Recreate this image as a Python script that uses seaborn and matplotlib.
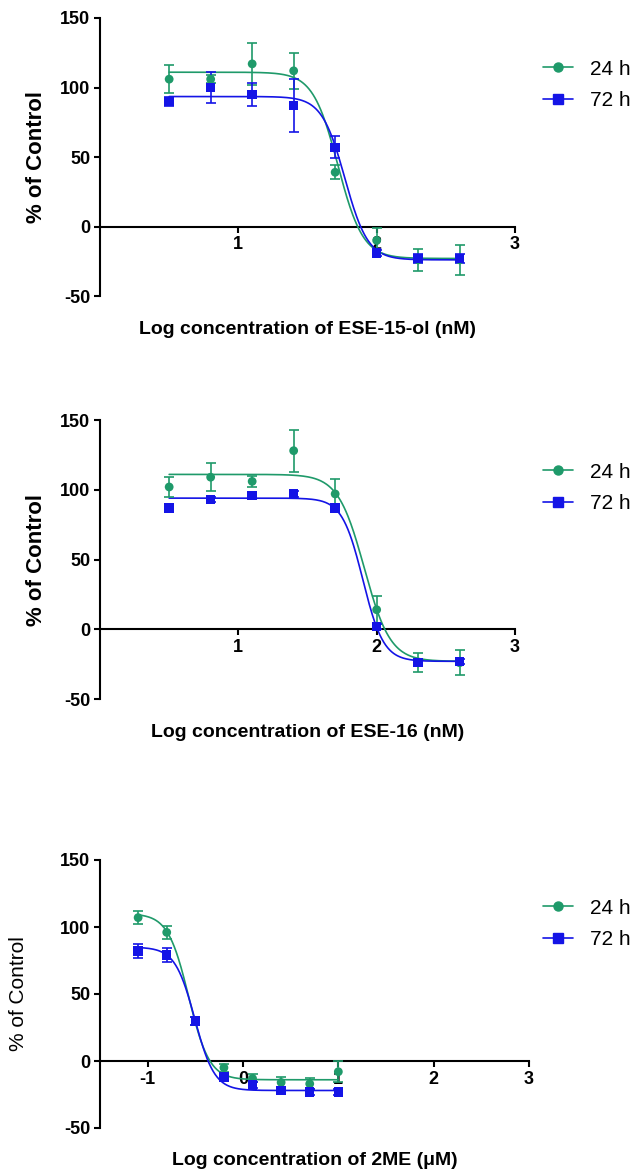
"""Dose-response curves for ESE-15-ol, ESE-16 and 2ME at 24 h and 72 h."""
import matplotlib

matplotlib.use("Agg")
import matplotlib.pyplot as plt
import numpy as np
import pandas as pd
import seaborn as sns
from matplotlib.lines import Line2D

# Log concentrations
log_conc_nm = [0.5, 0.8, 1.1, 1.4, 1.7, 2.0, 2.3, 2.6]
log_conc_um = [-1.1, -0.8, -0.5, -0.2, 0.1, 0.4, 0.7, 1.0]

# ESE-15-ol (% of control, mean and error)
ese15_24h = [106, 106, 117, 112, 39, -10, -24, -24]
ese15_24h_err = [10, 3, 15, 13, 5, 9, 8, 11]
ese15_72h = [90, 100, 95, 87, 57, -19, -23, -23]
ese15_72h_err = [3, 11, 8, 19, 8, 2, 3, 3]

# ESE-16
ese16_24h = [102, 109, 106, 128, 97, 14, -24, -24]
ese16_24h_err = [7, 10, 4, 15, 11, 10, 7, 9]
ese16_72h = [87, 93, 96, 97, 87, 2, -24, -23]
ese16_72h_err = [2, 2, 2, 2, 2, 2, 2, 2]

# 2ME
me2_24h = [107, 96, 30, -5, -13, -16, -17, -8]
me2_24h_err = [5, 5, 3, 3, 3, 4, 4, 8]
me2_72h = [82, 79, 30, -12, -18, -22, -23, -23]
me2_72h_err = [5, 5, 3, 2, 2, 2, 2, 2]

# Fitted 4PL parameters: top, bottom, logEC50, hill
fit_ese15_24h = [111, -23, 1.72, 4.8]
fit_ese15_72h = [93.5, -24, 1.77, 5.2]
fit_ese16_24h = [111, -23, 1.91, 4.6]
fit_ese16_72h = [94, -23, 1.90, 5.8]
fit_me2_24h = [110, -14, -0.57, 4.0]
fit_me2_72h = [85, -22, -0.506, 4.2]

series_labels = ["24 h", "72 h"]
GREEN = "#1f9a6a"
BLUE = "#1414e6"


def four_pl(x, params):
    top, bottom, ec50, hill = params
    return bottom + (top - bottom) / (1 + 10 ** ((x - ec50) * hill))


def draw_panel(ax, x, series, fits, xlim, xticks, xlabel, ylabel_bold, ylabel_x, ylabel_size):
    colors = [GREEN, BLUE]
    markers = ["o", "s"]
    sizes = [40, 46]
    for (y, err), fit, color, marker, size, label in zip(
        series, fits, colors, markers, sizes, series_labels
    ):
        xs = np.linspace(min(x), max(x), 300)
        curve = pd.DataFrame({"x": xs, "y": four_pl(xs, fit)})
        sns.lineplot(data=curve, x="x", y="y", color=color, lw=1.2, ax=ax, zorder=3)
        ax.errorbar(x, y, yerr=err, fmt="none", ecolor=color, elinewidth=1.2,
                    capsize=3.3, capthick=1.2, zorder=4, clip_on=False)
        df = pd.DataFrame({"x": x, "y": y})
        sns.scatterplot(data=df, x="x", y="y", color=color, marker=marker, s=size,
                        edgecolor="none", ax=ax, zorder=5, clip_on=False)

    ax.set_xlim(*xlim)
    ax.set_ylim(-50, 150)
    ax.set_xticks(xticks)
    ax.set_xticklabels([str(t) for t in xticks])
    ax.set_yticks([-50, 0, 50, 100, 150])
    ax.set_yticklabels(["-50", "0", "50", "100", "150"])
    ax.spines["bottom"].set_position(("data", 0))
    ax.spines[["top", "right"]].set_visible(False)
    for sp in ["left", "bottom"]:
        ax.spines[sp].set_linewidth(1.5)
        ax.spines[sp].set_color("black")
    ax.tick_params(axis="both", length=4.5, width=1.5, color="black",
                   labelcolor="black", labelsize=13, pad=2.5)
    for lab in ax.get_xticklabels() + ax.get_yticklabels():
        lab.set_fontweight("bold")
    ax.set_xlabel("")
    ax.set_ylabel("")
    ax.text(0.5, -0.12, xlabel, transform=ax.transAxes, ha="center", va="center",
            fontsize=14, fontweight="bold", color="black")
    ax.text(ylabel_x, 0.5, "% of Control", transform=ax.transAxes, rotation=90,
            ha="center", va="center", fontsize=ylabel_size, color="black",
            fontweight="bold" if ylabel_bold else "normal")


def main() -> None:
    sns.set_theme(style="ticks")
    plt.rcParams["font.family"] = ["Liberation Sans", "DejaVu Sans"]
    plt.rcParams["axes.unicode_minus"] = False

    fig = plt.figure(figsize=(6.36, 11.73), dpi=100)
    H = 1173.0
    W = 636.0
    ax1 = fig.add_axes([100 / W, 1 - 296 / H, 415 / W, 278 / H])
    ax2 = fig.add_axes([100 / W, 1 - 699 / H, 415 / W, 279 / H])
    ax3 = fig.add_axes([100 / W, 1 - 1128 / H, 429 / W, 268 / H])

    draw_panel(ax1, log_conc_nm,
               [(ese15_24h, ese15_24h_err), (ese15_72h, ese15_72h_err)],
               [fit_ese15_24h, fit_ese15_72h], (0, 3), [1, 2, 3],
               "Log concentration of ESE-15-ol (nM)", True, -0.154, 16)
    draw_panel(ax2, log_conc_nm,
               [(ese16_24h, ese16_24h_err), (ese16_72h, ese16_72h_err)],
               [fit_ese16_24h, fit_ese16_72h], (0, 3), [1, 2, 3],
               "Log concentration of ESE-16 (nM)", True, -0.154, 16)
    draw_panel(ax3, log_conc_um,
               [(me2_24h, me2_24h_err), (me2_72h, me2_72h_err)],
               [fit_me2_24h, fit_me2_72h], (-1.5, 3), [-1, 0, 1, 2, 3],
               "Log concentration of 2ME (\u03bcM)", False, -0.191, 15)

    handles = [
        Line2D([0], [0], color=GREEN, marker="o", markersize=6.5, lw=1.2),
        Line2D([0], [0], color=BLUE, marker="s", markersize=6.5, lw=1.2),
    ]
    for yc in [1 - 85 / H, 1 - 488 / H, 1 - 924 / H]:
        leg = fig.legend(handles, series_labels, loc="center left",
                         bbox_to_anchor=(543 / W, yc), frameon=False, fontsize=15,
                         handlelength=1.45, handletextpad=0.8, labelspacing=0.62,
                         borderpad=0, borderaxespad=0)
        for t in leg.get_texts():
            t.set_color("black")

    fig.savefig("out.png", dpi=100)
    plt.close(fig)


if __name__ == "__main__":
    main()
